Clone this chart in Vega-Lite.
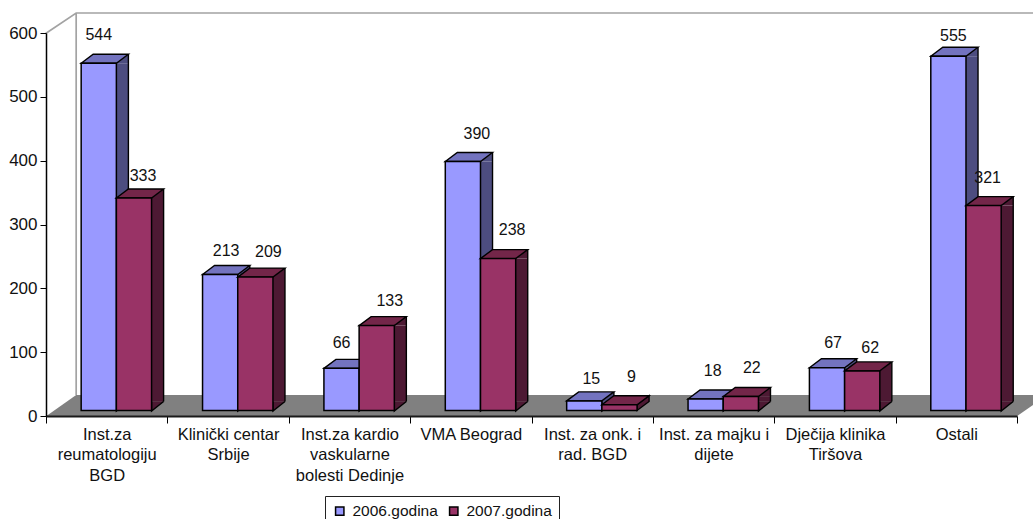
{"$schema":"https://vega.github.io/schema/vega-lite/v6.json","width":971,"height":383,"autosize":"none","padding":{"left":46,"top":33,"right":16,"bottom":103},"background":"white","view":{"stroke":null},
"data":{"values":[
{"category":"Inst.za|reumatologiju|BGD","series":"2006.godina","value":544},{"category":"Inst.za|reumatologiju|BGD","series":"2007.godina","value":333},
{"category":"Klinički centar|Srbije","series":"2006.godina","value":213},{"category":"Klinički centar|Srbije","series":"2007.godina","value":209},
{"category":"Inst.za kardio|vaskularne|bolesti Dedinje","series":"2006.godina","value":66},{"category":"Inst.za kardio|vaskularne|bolesti Dedinje","series":"2007.godina","value":133},
{"category":"VMA Beograd","series":"2006.godina","value":390},{"category":"VMA Beograd","series":"2007.godina","value":238},
{"category":"Inst. za onk. i|rad. BGD","series":"2006.godina","value":15},{"category":"Inst. za onk. i|rad. BGD","series":"2007.godina","value":9},
{"category":"Inst. za majku i|dijete","series":"2006.godina","value":18},{"category":"Inst. za majku i|dijete","series":"2007.godina","value":22},
{"category":"Dječija klinika|Tiršova","series":"2006.godina","value":67},{"category":"Dječija klinika|Tiršova","series":"2007.godina","value":62},
{"category":"Ostali","series":"2006.godina","value":555},{"category":"Ostali","series":"2007.godina","value":321}]},
"config":{"font":"Liberation Sans","text":{"font":"Liberation Sans","fontSize":16,"fill":"#111"}},
"encoding":{
"x":{"field":"category","type":"nominal","sort":null,"title":null,"scale":{"paddingInner":0,"paddingOuter":0},"axis":{"labelAngle":0,"tickBand":"extent","labelExpr":"split(datum.label,'|')","labelFontSize":16.5,"labelColor":"#111","labelLineHeight":20.5,"labelPadding":3,"labelBaseline":"top","labelLimit":200,"tickSize":7,"tickColor":"black","domainColor":"#1a1a1a","domainWidth":2.2,"labelFont":"Liberation Sans","grid":false,"zindex":1}},
"xOffset":{"field":"series","type":"nominal","scale":{"paddingInner":0,"paddingOuter":0.724,"align":0.69}},
"y":{"field":"value","type":"quantitative","stack":null,"title":null,"scale":{"domain":[0,600],"nice":false},"axis":{"values":[0,100,200,300,400,500,600],"labelFontSize":17,"labelColor":"#111","labelPadding":3,"tickSize":6,"tickColor":"black","domainColor":"black","domainWidth":1.5,"grid":false,"labelFont":"Liberation Sans","zindex":1}}},
"layer":[
{"transform":[{"filter":"datum.value==544"}],"mark":{"type":"point","filled":true,"opacity":1,"size":4,"fill":"#808080","stroke":null,"shape":"M-53.1,0.5 L-22.6,-21 L948.9,-21 L917.7,0.5 Z"},"encoding":{"y":{"datum":0}}},
{"transform":[{"filter":"datum.value==544"}],"mark":{"type":"point","filled":false,"opacity":1,"size":4,"stroke":"#a3a3a3","strokeWidth":1.7,"shape":"M-53.1,-382.5 L-22.6,-403 L950,-403 M-22.6,-403 L-22.6,-21"},"encoding":{"y":{"datum":0}}},

{"transform":[{"filter":"datum.series=='2006.godina' && datum.value>10"}],"mark":{"type":"rule","strokeWidth":12,"yOffset":-5.5,"y2Offset":-14.5,"stroke":"#4d4d80"},"encoding":{"xOffset":{"value":76.4},"y2":{"datum":0}}},
{"transform":[{"filter":"datum.series=='2006.godina' && datum.value>10"}],"mark":{"type":"point","filled":true,"opacity":1,"size":4,"fill":"#4d4d80","stroke":null,"shape":"M17.6,-5.5 L29.6,-14.5 L29.6,-5.5 Z"}},
{"transform":[{"filter":"datum.series=='2006.godina' && datum.value>10"}],"mark":{"type":"point","filled":true,"opacity":1,"size":4,"fill":"#4d4d80","stroke":"black","strokeWidth":1.4,"shape":"M17.6,-14.5 L17.6,-5 L29.6,-14.5"},"encoding":{"y":{"datum":0}}},
{"transform":[{"filter":"datum.series=='2006.godina' && datum.value>10"}],"mark":{"type":"rule","yOffset":-14.5,"y2Offset":-14.5,"stroke":"black","strokeWidth":1.4},"encoding":{"xOffset":{"value":82.4},"y2":{"datum":0}}},
{"transform":[{"filter":"datum.series=='2006.godina'"}],"mark":{"type":"point","filled":true,"opacity":1,"size":4,"fill":"#7373bf","stroke":"black","strokeWidth":1.4,"shape":"M-17.6,-5.5 L17.6,-5.5 L29.6,-14.5 L-5.6,-14.5 Z"}},
{"transform":[{"filter":"datum.series=='2006.godina'"}],"mark":{"type":"bar","yOffset":-5.5,"y2Offset":-5.5,"stroke":"black","strokeWidth":1.5},"encoding":{"y2":{"datum":0},"color":{"field":"series","type":"nominal","scale":{"domain":["2006.godina","2007.godina"],"range":["#9999ff","#993366"]},"legend":{"title":null,"orient":"none","legendX":279,"legendY":463,"direction":"horizontal","columns":2,"symbolType":"square","symbolSize":70,"symbolStrokeColor":"black","symbolStrokeWidth":1.5,"labelFontSize":15.5,"labelColor":"#111","labelFont":"Liberation Sans","labelOffset":5,"columnPadding":8,"padding":7,"strokeColor":"#222","fillColor":"white","labelLimit":200}}}},

{"transform":[{"filter":"datum.series=='2007.godina' && datum.value>10"}],"mark":{"type":"rule","strokeWidth":12,"yOffset":-5.5,"y2Offset":-14.5,"stroke":"#4d1933"},"encoding":{"xOffset":{"value":111.6},"y2":{"datum":0}}},
{"transform":[{"filter":"datum.series=='2007.godina' && datum.value>10"}],"mark":{"type":"point","filled":true,"opacity":1,"size":4,"fill":"#4d1933","stroke":null,"shape":"M17.6,-5.5 L29.6,-14.5 L29.6,-5.5 Z"}},
{"transform":[{"filter":"datum.series=='2007.godina' && datum.value>10"}],"mark":{"type":"point","filled":true,"opacity":1,"size":4,"fill":"#4d1933","stroke":"black","strokeWidth":1.4,"shape":"M17.6,-14.5 L17.6,-5 L29.6,-14.5"},"encoding":{"y":{"datum":0}}},
{"transform":[{"filter":"datum.series=='2007.godina' && datum.value>10"}],"mark":{"type":"rule","yOffset":-14.5,"y2Offset":-14.5,"stroke":"black","strokeWidth":1.4},"encoding":{"xOffset":{"value":117.6},"y2":{"datum":0}}},
{"transform":[{"filter":"datum.series=='2007.godina' && datum.value<10"}],"mark":{"type":"point","filled":true,"opacity":1,"size":4,"fill":"#4d1933","stroke":"black","strokeWidth":1.4,"shape":"M17.6,-5.5 L29.6,-14.5 L29.6,-8.8 L17.6,0.2 Z"}},
{"transform":[{"filter":"datum.series=='2007.godina'"}],"mark":{"type":"point","filled":true,"opacity":1,"size":4,"fill":"#732649","stroke":"black","strokeWidth":1.4,"shape":"M-17.6,-5.5 L17.6,-5.5 L29.6,-14.5 L-5.6,-14.5 Z"}},
{"transform":[{"filter":"datum.series=='2007.godina'"}],"mark":{"type":"bar","yOffset":-5.5,"y2Offset":-5.5,"stroke":"black","strokeWidth":1.5},"encoding":{"y2":{"datum":0},"color":{"field":"series","type":"nominal"}}},

{"transform":[{"filter":"datum.value==544"}],"mark":{"type":"text","dx":0,"dy":-34},"encoding":{"text":{"field":"value","type":"quantitative"}}},
{"transform":[{"filter":"datum.value==213"}],"mark":{"type":"text","dx":6,"dy":-29},"encoding":{"text":{"field":"value","type":"quantitative"}}},
{"transform":[{"filter":"datum.value==66"}],"mark":{"type":"text","dx":0,"dy":-31},"encoding":{"text":{"field":"value","type":"quantitative"}}},
{"transform":[{"filter":"datum.value==390"}],"mark":{"type":"text","dx":14,"dy":-33},"encoding":{"text":{"field":"value","type":"quantitative"}}},
{"transform":[{"filter":"datum.value==15"}],"mark":{"type":"text","dx":7,"dy":-27},"encoding":{"text":{"field":"value","type":"quantitative"}}},
{"transform":[{"filter":"datum.value==18"}],"mark":{"type":"text","dx":7,"dy":-34},"encoding":{"text":{"field":"value","type":"quantitative"}}},
{"transform":[{"filter":"datum.value==67"}],"mark":{"type":"text","dx":6,"dy":-30},"encoding":{"text":{"field":"value","type":"quantitative"}}},
{"transform":[{"filter":"datum.value==555"}],"mark":{"type":"text","dx":5,"dy":-26},"encoding":{"text":{"field":"value","type":"quantitative"}}},
{"transform":[{"filter":"datum.value==333"}],"mark":{"type":"text","dx":9,"dy":-27},"encoding":{"text":{"field":"value","type":"quantitative"}}},
{"transform":[{"filter":"datum.value==209"}],"mark":{"type":"text","dx":13,"dy":-31},"encoding":{"text":{"field":"value","type":"quantitative"}}},
{"transform":[{"filter":"datum.value==133"}],"mark":{"type":"text","dx":13,"dy":-30},"encoding":{"text":{"field":"value","type":"quantitative"}}},
{"transform":[{"filter":"datum.value==238"}],"mark":{"type":"text","dx":14,"dy":-34},"encoding":{"text":{"field":"value","type":"quantitative"}}},
{"transform":[{"filter":"datum.value==9"}],"mark":{"type":"text","dx":12,"dy":-33},"encoding":{"text":{"field":"value","type":"quantitative"}}},
{"transform":[{"filter":"datum.value==22"}],"mark":{"type":"text","dx":11,"dy":-34},"encoding":{"text":{"field":"value","type":"quantitative"}}},
{"transform":[{"filter":"datum.value==62"}],"mark":{"type":"text","dx":8,"dy":-28},"encoding":{"text":{"field":"value","type":"quantitative"}}},
{"transform":[{"filter":"datum.value==321"}],"mark":{"type":"text","dx":4,"dy":-33},"encoding":{"text":{"field":"value","type":"quantitative"}}}
]}
